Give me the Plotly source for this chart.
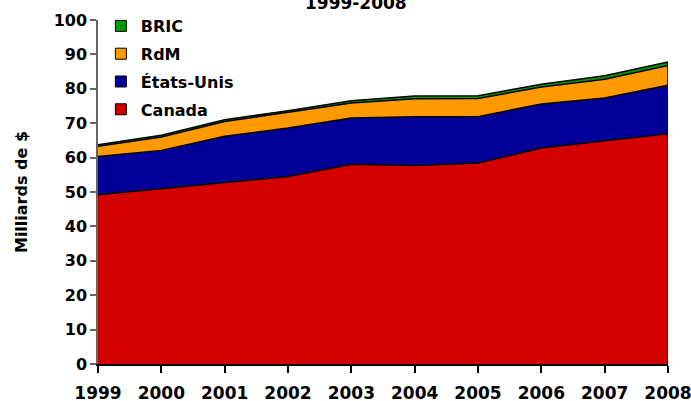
import plotly.graph_objects as go

years = [1999, 2000, 2001, 2002, 2003, 2004, 2005, 2006, 2007, 2008]
canada = [49.2, 50.9, 52.8, 54.5, 58.1, 57.7, 58.4, 62.8, 64.9, 66.9]
etats_unis = [11.1, 11.2, 13.4, 14.1, 13.4, 14.2, 13.5, 12.8, 12.4, 14.1]
rdm = [3.0, 3.9, 4.3, 4.5, 4.4, 5.2, 5.3, 4.9, 5.5, 5.8]
bric = [0.4, 0.5, 0.5, 0.5, 0.6, 0.8, 0.8, 0.8, 1.0, 1.0]

series = [
    ("Canada", canada, "#D40000"),
    ("États-Unis", etats_unis, "#000099"),
    ("RdM", rdm, "#FF9900"),
    ("BRIC", bric, "#009900"),
]

font = "DejaVu Sans"
fig = go.Figure()

for name, vals, col in series:
    fig.add_trace(go.Scatter(
        x=years, y=vals, stackgroup="one", mode="lines",
        line=dict(color="black", width=1.5), fillcolor=col,
        showlegend=False, hoverinfo="x+y", name=name,
    ))

# right edge of the stacked areas
total_last = sum(s[1][-1] for s in series)
fig.add_trace(go.Scatter(x=[years[-1], years[-1]], y=[0, total_last], mode="lines",
                         line=dict(color="black", width=1.5), showlegend=False, hoverinfo="skip"))

# legend entries (square swatches), BRIC on top
for i, (name, vals, col) in enumerate(reversed(series)):
    fig.add_trace(go.Scatter(
        x=[None], y=[None], mode="markers", name=name, legendgroup=str(i),
        marker=dict(symbol="square", size=11, color=col, line=dict(color="black", width=1)),
    ))

fig.add_annotation(text="<b>1999-2008</b>", xref="paper", yref="paper", x=0.453, y=1.015,
                   xanchor="center", yanchor="bottom", showarrow=False,
                   font=dict(family=font, size=17, color="black"))

fig.update_layout(
    width=691, height=401,
    margin=dict(l=98, r=23, t=20, b=37, autoexpand=False),
    paper_bgcolor="white", plot_bgcolor="white",
    font=dict(family=font, size=16, color="black"),
    legend=dict(x=0.005, y=1.032, xanchor="left", yanchor="top", traceorder="grouped",
                tracegroupgap=4, font=dict(family=font, size=16, weight="bold"),
                bgcolor="rgba(0,0,0,0)"),
    xaxis=dict(range=[1999, 2008], tickvals=years, ticks="outside", ticklen=7,
               tickwidth=1.5, tickcolor="black", showline=True, linecolor="black",
               linewidth=1.5, showgrid=False, zeroline=False, automargin=False,
               ticklabelstandoff=6, ticklabeloverflow="allow",
               tickfont=dict(family=font, size=17, weight="bold")),
    yaxis=dict(range=[0, 100], dtick=10, ticks="outside", ticklen=6, tickwidth=1.5,
               tickcolor="#666666", showline=True, linecolor="#666666", linewidth=1.5,
               showgrid=False, zeroline=False, automargin=False,
               tickfont=dict(family=font, size=16, weight="bold"),
               title=dict(text="<b>Milliards de $</b>", standoff=22,
                          font=dict(family=font, size=16))),
)

fig.write_html("out.html", config={"displayModeBar": False},
               post_script="document.body.style.margin='0';")
